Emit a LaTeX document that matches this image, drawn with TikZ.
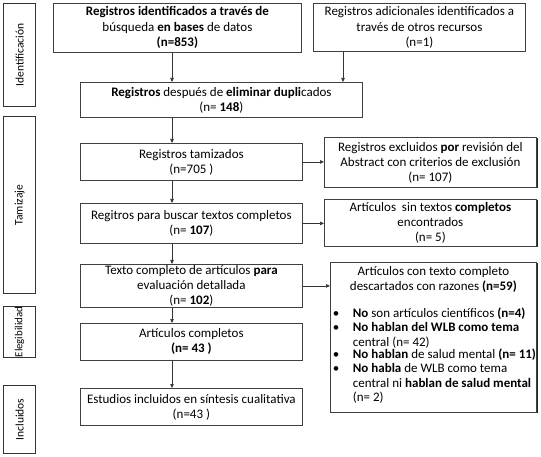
\documentclass[tikz,border=0pt]{standalone}
\usepackage{fontspec}
\setmainfont{Carlito}
\usetikzlibrary{arrows.meta,shadows}
\newcommand{\bitem}[1]{\noindent\makebox[22pt][l]{\hspace{2pt}\textbullet}\parbox[t]{184pt}{#1}\par}
\begin{document}
\begin{tikzpicture}[x=1pt,y=-1pt,
  every node/.style={font=\fontsize{13}{15}\selectfont, text=black},
  box/.style={draw=black!75, line width=0.8pt, fill=white, align=center, anchor=north west, inner sep=1pt},
  sidebox/.style={draw=black!80, line width=1.1pt, fill=white, anchor=north west, minimum width=32pt},
  sidelabel/.style={rotate=90, font=\fontsize{11.5}{13}\selectfont},
  rbox/.style={box, drop shadow={shadow xshift=2pt, shadow yshift=-1pt, fill=black!85, opacity=1}},
  arr/.style={draw=black!80, line width=0.7pt, -{Triangle[length=4pt,width=3.5pt]}}
]
\useasboundingbox (0,0) rectangle (541,457);
% side labels
\node[sidebox, minimum height=103pt] (s1) at (3,3) {};
\node[sidelabel] (s1t) at (s1.center) {Identificación};
\node[sidebox, minimum height=177pt] (s2) at (3,116) {};
\node[sidelabel] (s2t) at (s2.center) {Tamizaje};
\node[sidebox, minimum height=51pt] (s3) at (3,306) {};
\node[sidelabel, font=\fontsize{10.8}{13}\selectfont] (s3t) at (s3.center) {Elegibilidad};
\node[sidebox, minimum height=68pt] (s4) at (3,385) {};
\node[sidelabel] (s4t) at (s4.center) {Incluidos};
% top boxes
\node[box, minimum width=248pt, minimum height=49pt, font=\fontsize{13}{15.5}\selectfont] (b1) at (53,3)
  {\textbf{Registros identificados a través de}\\búsqueda \textbf{en bases} de datos\\\textbf{(n=853)}};
\node[box, minimum width=212pt, minimum height=48pt, font=\fontsize{13}{15.5}\selectfont] (b2) at (313,3)
  {Registros adicionales identificados a\\través de otros recursos\\(n=1)};
\node[box, minimum width=282pt, minimum height=35pt] (b3) at (80,82)
  {\textbf{Registros} después de \textbf{eliminar dupli}cados\\(n= \textbf{148})};
% main column
\node[box, minimum width=222pt, minimum height=37pt] (b4) at (80,143)
  {Registros tamizados\\(n=705 )};
\node[box, minimum width=222pt, minimum height=40pt] (b5) at (80,203)
  {Regitros para buscar textos completos\\(n= \textbf{107})};
\node[box, minimum width=222pt, minimum height=43pt] (b6) at (80,264)
  {Texto completo de artículos \textbf{para}\\evaluación detallada\\(n= \textbf{102})};
\node[box, minimum width=222pt, minimum height=37pt] (b7) at (80,323)
  {Artículos completos\\\textbf{(n= 43 )}};
\node[box, minimum width=222pt, minimum height=37pt] (b8) at (80,388)
  {Estudios incluidos en síntesis cualitativa\\(n=43 )};
% right boxes
\node[rbox, minimum width=212pt, minimum height=50pt] (r1) at (324,137)
  {Registros excluidos \textbf{por} revisión del\\Abstract con criterios de exclusión\\(n= 107)};
\node[rbox, minimum width=212pt, minimum height=47pt] (r2) at (324,199)
  {Artículos\ \ sin textos \textbf{completos}\\encontrados\\(n= 5)};
\node[rbox, minimum width=206pt, minimum height=150pt, inner sep=0pt, align=left] (r3) at (330,262)
  {\parbox[t][148pt][t]{205pt}{\fontsize{13}{14.4}\selectfont\vspace{3pt}%
   {\centering\fontsize{13}{15.5}\selectfont Artículos con texto completo\\descartados con razones \textbf{(n=59)}\par}
   \vspace{12pt}
   \bitem{\textbf{No} son artículos científicos \textbf{(n=4)}}
   \bitem{\textbf{No hablan del WLB como tema}\\central (n= 42)}
   \bitem{\textbf{No hablan} de salud mental \textbf{(n= 11)}}
   \bitem{\textbf{No habla} de WLB como tema\\central ni \textbf{hablan de salud mental}\\(n= 2)}}};
% connectors
\coordinate (ax) at (172,0);
\coordinate (bx) at (343,0);
\draw[arr] (b1.south -| ax) -- (b3.north -| ax);
\draw[arr] (b2.south -| bx) -- (b3.north -| bx);
\draw[arr] (b3.south -| ax) -- (b4.north -| ax);
\draw[arr] (b4.south -| ax) -- (b5.north -| ax);
\draw[arr] (b5.south -| ax) -- (b6.north -| ax);
\draw[arr] (b6.south -| ax) -- (b7.north -| ax);
\draw[arr] (b7.south -| ax) -- (b8.north -| ax);
\draw[arr] (b4.east) -- (b4.east -| r1.west);
\draw[arr] (b5.east) -- (b5.east -| r2.west);
\draw[arr] (b6.east) -- (b6.east -| r3.west);
\end{tikzpicture}
\end{document}
